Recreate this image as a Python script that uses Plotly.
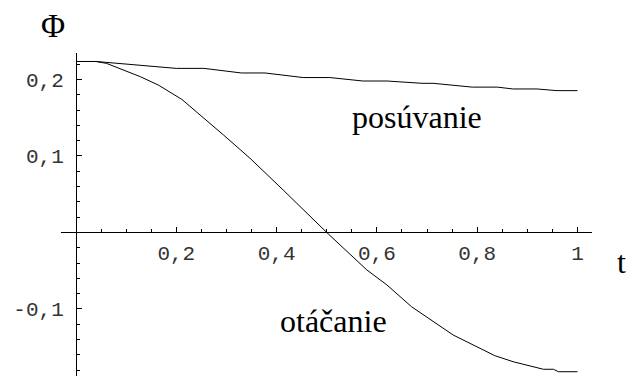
import plotly.graph_objects as go

# Phase Φ(t) for the two motions, read as piecewise-linear samples
t_posuvanie = [0.0, 0.04, 0.20, 0.255, 0.33, 0.377, 0.453, 0.506, 0.572, 0.62,
               0.69, 0.712, 0.79, 0.84, 0.871, 0.919, 0.959, 1.0]
phi_posuvanie = [0.2235, 0.2235, 0.2145, 0.2145, 0.2085, 0.2085, 0.2025, 0.2025, 0.198, 0.198,
                 0.195, 0.195, 0.190, 0.190, 0.1876, 0.1876, 0.1854, 0.1854]

t_otacanie = [0.0, 0.04, 0.061, 0.128, 0.164, 0.211, 0.294, 0.347, 0.413, 0.5,
              0.58, 0.62, 0.669, 0.752, 0.835, 0.872, 0.932, 0.952, 0.962, 1.0]
phi_otacanie = [0.2235, 0.2235, 0.221, 0.2037, 0.1928, 0.174, 0.1275, 0.097, 0.0556, 0.0,
                -0.049, -0.0686, -0.097, -0.134, -0.161, -0.169, -0.1788, -0.1788, -0.182, -0.182]

x_tickvals = [0.2, 0.4, 0.6, 0.8, 1.0]
x_ticktext = ["0,2", "0,4", "0,6", "0,8", "1"]
y_tickvals = [-0.1, 0.1, 0.2]
y_ticktext = ["-0,1", "0,1", "0,2"]

x_range = [-0.0299, 1.0289]
y_range = [-0.1876, 0.2346]

line_style = dict(color="black", width=1)

fig = go.Figure()
fig.add_trace(go.Scatter(x=t_posuvanie, y=phi_posuvanie, mode="lines", line=line_style,
                         name="posúvanie", showlegend=False, hoverinfo="skip"))
fig.add_trace(go.Scatter(x=t_otacanie, y=phi_otacanie, mode="lines", line=line_style,
                         name="otáčanie", showlegend=False, hoverinfo="skip"))

tick_font = dict(family="Liberation Mono", size=21, color="#333")

# axes cross at the origin, Mathematica style
x0_frac = (0 - y_range[0]) / (y_range[1] - y_range[0])
y0_frac = (0 - x_range[0]) / (x_range[1] - x_range[0])

fig.update_layout(
    width=626, height=376,
    margin=dict(l=61, r=34, t=53, b=0),
    paper_bgcolor="white", plot_bgcolor="white",
    xaxis=dict(
        range=x_range, anchor="free", position=x0_frac, side="bottom",
        showgrid=False, zeroline=False,
        showline=True, linecolor="black", linewidth=1,
        tickmode="array", tickvals=x_tickvals, ticktext=x_ticktext,
        ticks="inside", ticklen=5, tickcolor="black", tickwidth=1,
        ticklabelstandoff=1,
        minor=dict(dtick=0.05, tick0=0, ticks="inside", ticklen=3, tickcolor="black", showgrid=False),
        tickfont=tick_font,
    ),
    yaxis=dict(
        range=y_range, anchor="free", position=y0_frac, side="left",
        showgrid=False, zeroline=False,
        showline=True, linecolor="black", linewidth=1,
        tickmode="array", tickvals=y_tickvals, ticktext=y_ticktext,
        ticks="inside", ticklen=5, tickcolor="black", tickwidth=1,
        ticklabelstandoff=8,
        minor=dict(dtick=0.02, tick0=0, ticks="inside", ticklen=3, tickcolor="black", showgrid=False),
        tickfont=tick_font,
    ),
)

def px_to_paper(px, py):
    return (px - 61) / 531, (376 - py) / 323

serif = "Liberation Serif"
labels = [
    ("Φ", 52.5, 26, 33),
    ("t", 621.5, 261.5, 32),
    ("posúvanie", 417, 117, 32),
    ("otáčanie", 333, 321, 32),
]
for text, px, py, size in labels:
    xp, yp = px_to_paper(px, py)
    fig.add_annotation(text=text, x=xp, y=yp, xref="paper", yref="paper",
                       xanchor="center", yanchor="middle", showarrow=False,
                       font=dict(family=serif, size=size, color="black"))

fig.write_html("out.html")
